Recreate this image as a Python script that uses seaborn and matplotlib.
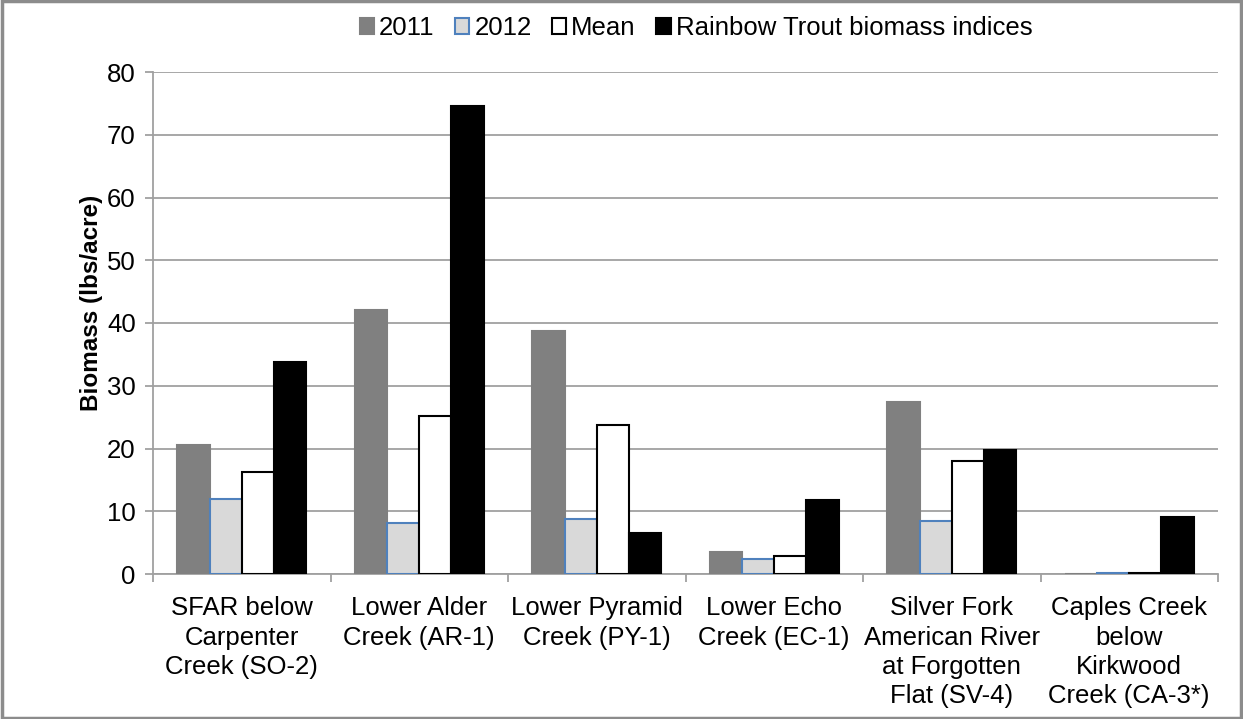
import matplotlib
matplotlib.use("Agg")
import matplotlib.pyplot as plt
import seaborn as sns
import pandas as pd
from matplotlib.patches import Patch, Rectangle

sites = [
    "SFAR below\nCarpenter\nCreek (SO-2)",
    "Lower Alder\nCreek (AR-1)",
    "Lower Pyramid\nCreek (PY-1)",
    "Lower Echo\nCreek (EC-1)",
    "Silver Fork\nAmerican River\nat Forgotten\nFlat (SV-4)",
    "Caples Creek\nbelow\nKirkwood\nCreek (CA-3*)",
]
series = ["2011", "2012", "Mean", "Rainbow Trout biomass indices"]
v2011 = [20.5, 42.1, 38.8, 3.5, 27.4, 0.0]
v2012 = [12.0, 8.2, 8.7, 2.4, 8.45, 0.2]
vmean = [16.3, 25.2, 23.8, 2.9, 18.0, 0.1]
vrainbow = [33.8, 74.6, 6.5, 11.8, 19.7, 9.1]
yticks = [0, 10, 20, 30, 40, 50, 60, 70, 80]

rows = []
for name, vals in zip(series, [v2011, v2012, vmean, vrainbow]):
    for s, v in zip(sites, vals):
        rows.append({"site": s, "series": name, "value": v})
df = pd.DataFrame(rows)

sns.set_theme(style="white")
plt.rcParams["font.family"] = ["Liberation Sans", "DejaVu Sans"]
plt.rcParams["text.color"] = "black"
plt.rcParams["axes.labelcolor"] = "black"
plt.rcParams["xtick.color"] = "black"
plt.rcParams["ytick.color"] = "black"

fills = ["#808080", "#D9D9D9", "#FFFFFF", "#000000"]
edges = ["#808080", "#4F81BD", "#000000", "#000000"]

fig = plt.figure(figsize=(12.43, 7.19), dpi=100)
ax = fig.add_axes([153 / 1243, 1 - 574 / 719, (1218 - 153) / 1243, (574 - 72) / 719])

sns.barplot(data=df, x="site", y="value", hue="series", hue_order=series,
            palette=fills, width=0.725, saturation=1, ax=ax, legend=False,
            zorder=3)
for cont, ec in zip(ax.containers, edges):
    for bar in cont:
        bar.set_edgecolor(ec)
        bar.set_linewidth(1.5)

FS = 18.5
ax.set_ylim(0, 80)
ax.set_xlim(-0.5, len(sites) - 0.5)
ax.set_yticks(yticks)
ax.set_yticklabels([str(t) for t in yticks], fontsize=FS)
ax.yaxis.grid(True, color="#A0A0A0", linewidth=1.3, zorder=0)
ax.set_axisbelow(True)
for side in ["top", "right"]:
    ax.spines[side].set_visible(False)
for side in ["left", "bottom"]:
    ax.spines[side].set_color("#A0A0A0")
    ax.spines[side].set_linewidth(1.3)

ax.tick_params(axis="y", which="major", direction="out", length=5.5, width=1.3,
               color="#A0A0A0", labelcolor="black", left=True, pad=7)
ax.set_xticks(range(len(sites)))
ax.set_xticklabels(sites, fontsize=FS, linespacing=1.28)
ax.tick_params(axis="x", which="major", length=0, pad=16, labelcolor="black")
ax.set_xticks([i - 0.5 for i in range(len(sites) + 1)], minor=True)
ax.tick_params(axis="x", which="minor", direction="out", length=6, width=1.3,
               color="#A0A0A0", bottom=True)
for lab in ax.get_xticklabels():
    lab.set_verticalalignment("top")
    lab.set_horizontalalignment("center")

ax.set_xlabel("")
ax.set_ylabel("Biomass (lbs/acre)", fontsize=17.5, fontweight="bold", color="black")
ax.yaxis.set_label_coords((103 - 153) / 1065, 0.54)

handles = [Patch(facecolor=f, edgecolor=e, linewidth=1.5) for f, e in zip(fills, edges)]
fig.legend(handles, series, loc="center", bbox_to_anchor=(696 / 1243, 1 - 28 / 719),
           ncol=4, frameon=False, fontsize=FS, handlelength=0.55, handleheight=0.55,
           handletextpad=0.2, columnspacing=0.8, labelcolor="black")

fig.patches.append(Rectangle((0.0015, 0.002), 0.997, 0.996, transform=fig.transFigure,
                             fill=False, edgecolor="#8C8C8C", linewidth=2.5))

fig.savefig("out.png", dpi=100, facecolor="white")
